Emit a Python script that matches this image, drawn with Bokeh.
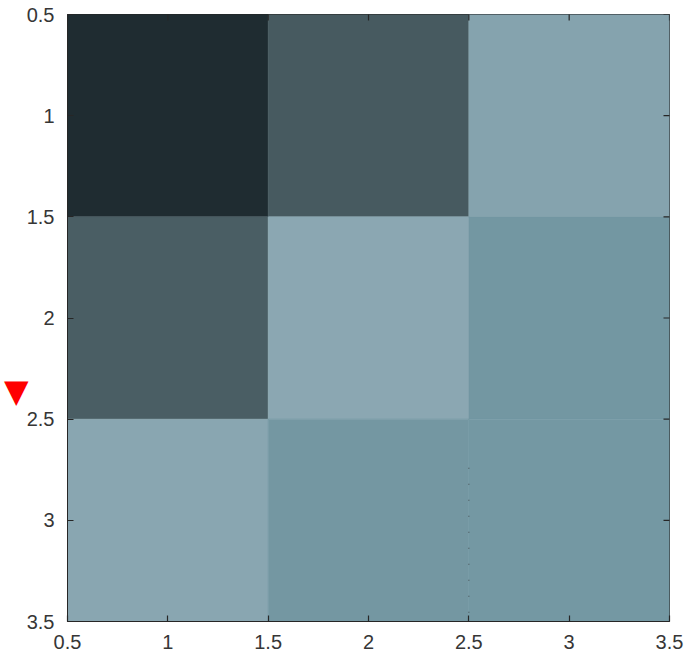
import numpy as np
from bokeh.plotting import figure
from bokeh.models import (Range1d, FixedTicker, LinearColorMapper, LinearAxis,
                          ColumnDataSource)
from bokeh.transform import transform
from bokeh.embed import file_html
from bokeh.resources import INLINE

# ---- data ----
rows = [1, 1, 1, 2, 2, 2, 3, 3, 3]
cols = [1, 2, 3, 1, 2, 3, 1, 2, 3]
values = [0.00, 0.37, 0.93, 0.40, 0.99, 0.75, 0.97, 0.755, 0.76]
ticks = [0.5, 1, 1.5, 2, 2.5, 3, 3.5]
tick_labels = ["0.5", "1", "1.5", "2", "2.5", "3", "3.5"]
dotted_v_x = [2.5, 2.5]
dotted_v_y = [2.74, 3.5]
arrow_head_y = 2.361

# ---- colour map (bone-like, muted) ----
anchor_t = [0.0, 0.40, 0.75, 1.0]
anchor_c = ["#1f2c31", "#4a5e64", "#7397a2", "#8ca8b3"]
def hex2rgb(h):
    return [int(h[i:i + 2], 16) for i in (1, 3, 5)]
rgb = np.array([hex2rgb(c) for c in anchor_c], dtype=float)
palette = []
for t in np.linspace(0, 1, 256):
    r, g, b = (np.interp(t, anchor_t, rgb[:, k]) for k in range(3))
    palette.append("#%02x%02x%02x" % (int(round(r)), int(round(g)), int(round(b))))
mapper = LinearColorMapper(palette=palette, low=0.0, high=1.0)

src = ColumnDataSource(dict(x=cols, y=rows, v=values))

p = figure(width=695, height=658,
           x_range=Range1d(0.5, 3.5), y_range=Range1d(3.5, 0.5),
           output_backend="svg", toolbar_location=None,
           min_border_left=67, min_border_right=26,
           min_border_top=14, min_border_bottom=37)

p.rect(x="x", y="y", width=1, height=1, source=src,
       fill_color=transform("v", mapper), line_color=transform("v", mapper),
       line_width=0.6)

p.line(dotted_v_x, dotted_v_y, line_color="#4d5a60", line_width=1.2,
       line_dash="1 15")

# mirrored inward ticks on the right and top edges (half of each dash is clipped)
p.scatter(x=[3.5] * len(ticks), y=ticks, marker="dash", size=12,
          line_color="#262626", line_width=1.2)
p.scatter(x=ticks, y=[0.5] * len(ticks), marker="dash", angle=np.pi / 2,
          size=12, line_color="#262626", line_width=1.2)

p.xgrid.grid_line_color = None
p.ygrid.grid_line_color = None
p.outline_line_color = "#262626"
p.outline_line_width = 1
p.background_fill_color = "white"
p.border_fill_color = "white"

overrides = {float(t): l for t, l in zip(ticks, tick_labels)}

for ax in (p.xaxis[0], p.yaxis[0]):
    ax.ticker = FixedTicker(ticks=ticks)
    ax.major_label_overrides = overrides
    ax.major_tick_in = 6
    ax.major_tick_out = 0
    ax.minor_tick_line_color = None
    ax.major_tick_line_color = "#262626"
    ax.major_tick_line_width = 1.2
    ax.axis_line_color = "#262626"
    ax.axis_line_width = 1
    ax.major_label_text_font = "Liberation Sans"
    ax.major_label_text_font_size = "20px"
    ax.major_label_text_color = "#363636"

p.xaxis[0].major_label_standoff = 13
p.yaxis[0].major_label_standoff = 13

# red arrow head in the left margin, drawn as the label of an outer axis
arr = LinearAxis(ticker=FixedTicker(ticks=[arrow_head_y]))
arr.axis_line_color = None
arr.major_tick_line_color = None
arr.minor_tick_line_color = None
arr.major_tick_out = 0
arr.major_tick_in = 0
arr.major_label_standoff = -5
arr.major_label_overrides = {arrow_head_y: "\u25BC"}
arr.major_label_text_color = "red"
arr.major_label_text_font = "DejaVu Sans"
arr.major_label_text_font_size = "32px"
p.add_layout(arr, "left")

open("out.html", "w").write(file_html(p, INLINE))
